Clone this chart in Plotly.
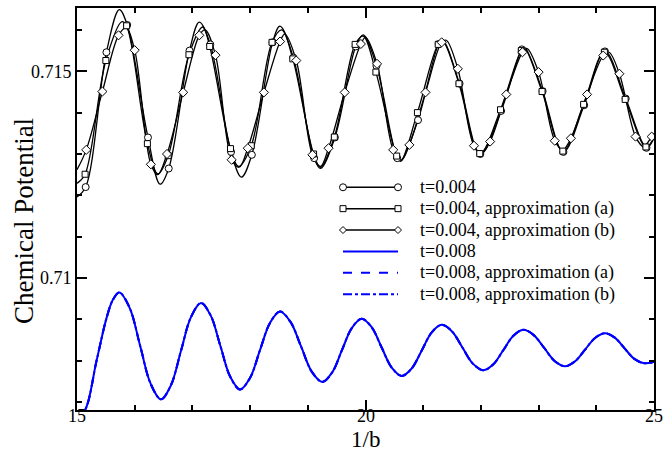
import plotly.graph_objects as go

# ---------------- data ----------------
# t = 0.004 : turning points of the curve and marker (circle) points
t004_turn_x = [15.00, 15.733, 16.44, 17.12, 17.85, 18.518, 19.22, 19.96, 20.61, 21.34, 22.00, 22.76, 23.42, 24.17, 24.83, 25.00]
t004_turn_y = [0.71196, 0.71649, 0.71227, 0.71619, 0.71244, 0.71609, 0.71265, 0.71588, 0.71283, 0.71574, 0.71299, 0.71557, 0.71305, 0.71549, 0.71314, 0.71338]
t004_mark_x = [15.15, 15.51, 15.87, 16.23, 16.59, 16.95, 17.31, 17.67, 18.03, 18.39, 18.75, 19.11, 19.47, 19.83,
               20.19, 20.55, 20.91, 21.27, 21.63, 21.99, 22.35, 22.71, 23.07, 23.43, 23.79, 24.15, 24.51, 24.87]
t004_mark_y = [0.71220, 0.71546, 0.71612, 0.71340, 0.71265, 0.71550, 0.71565, 0.71305, 0.71298, 0.71570, 0.71533, 0.71290, 0.71340, 0.71560,
               0.71513, 0.71290, 0.71382, 0.71566, 0.71470, 0.71300, 0.71404, 0.71553, 0.71452, 0.71305, 0.71418, 0.71548, 0.71434, 0.71315]

# t = 0.004, approximation (a) : squares
t004a_turn_x = [15.00, 15.78, 16.40, 17.18, 17.80, 18.55, 19.22, 19.96, 20.61, 21.34, 22.00, 22.76, 23.42, 24.17, 24.83, 25.00]
t004a_turn_y = [0.71229, 0.71620, 0.71252, 0.71607, 0.71270, 0.71600, 0.71268, 0.71585, 0.71283, 0.71572, 0.71300, 0.71555, 0.71307, 0.71547, 0.71316, 0.71340]
t004a_mark_x = [15.14, 15.50, 15.86, 16.22, 16.58, 16.94, 17.30, 17.66, 18.02, 18.38, 18.74, 19.10, 19.46, 19.82,
                20.18, 20.54, 20.90, 21.26, 21.62, 21.98, 22.34, 22.70, 23.06, 23.42, 23.78, 24.14, 24.50, 24.86]
t004a_mark_y = [0.71251, 0.71526, 0.71610, 0.71325, 0.71296, 0.71540, 0.71560, 0.71313, 0.71320, 0.71570, 0.71530, 0.71300, 0.71341, 0.71565,
                0.71498, 0.71295, 0.71400, 0.71565, 0.71470, 0.71301, 0.71407, 0.71550, 0.71451, 0.71307, 0.71420, 0.71546, 0.71432, 0.71317]

# t = 0.004, approximation (b) : diamonds
t004b_turn_x = [15.00, 15.85, 16.40, 17.22, 17.81, 18.60, 19.22, 20.00, 20.62, 21.40, 22.02, 22.80, 23.42, 24.22, 24.82, 25.00]
t004b_turn_y = [0.71262, 0.71605, 0.71250, 0.71600, 0.71268, 0.71590, 0.71270, 0.71582, 0.71285, 0.71575, 0.71302, 0.71555, 0.71310, 0.71546, 0.71318, 0.71350]
t004b_mark_x = [15.16, 15.44, 15.72, 16.00, 16.28, 16.56, 16.84, 17.12, 17.40, 17.68, 17.96, 18.24, 18.52, 18.80, 19.08, 19.36, 19.64, 19.92,
                20.20, 20.48, 20.76, 21.04, 21.32, 21.60, 21.88, 22.16, 22.44, 22.72, 23.00, 23.28, 23.56, 23.84, 24.12, 24.40, 24.68, 24.96]
t004b_mark_y = [0.71310, 0.71451, 0.71587, 0.71551, 0.71275, 0.71300, 0.71449, 0.71587, 0.71539, 0.71286, 0.71314, 0.71449, 0.71572, 0.71526,
                0.71298, 0.71314, 0.71449, 0.71566, 0.71518, 0.71310, 0.71322, 0.71449, 0.71570, 0.71506, 0.71320, 0.71330, 0.71444, 0.71546,
                0.71498, 0.71332, 0.71338, 0.71444, 0.71538, 0.71494, 0.71342, 0.71342]

# t = 0.008 (exact, approximation (a) and (b) coincide at this scale)
t008_x = [15.00, 15.14, 15.34, 15.515, 15.624, 15.733, 15.914, 16.095, 16.276, 16.456, 16.628, 16.80, 16.975, 17.149,
          17.318, 17.487, 17.656, 17.825, 17.998, 18.17, 18.344, 18.518, 18.70, 18.885, 19.068, 19.251, 19.42, 19.59,
          19.762, 19.934, 20.107, 20.28, 20.454, 20.627, 20.80, 20.975, 21.148, 21.321, 21.50, 21.68, 21.861, 22.042,
          22.216, 22.39, 22.5625, 22.735, 22.916, 23.097, 23.277, 23.458, 23.63, 23.805, 23.978, 24.151, 24.32, 24.49,
          24.66, 24.83, 25.00]
t008_y = [0.70662, 0.70681, 0.70801, 0.70905, 0.70948, 0.709654, 0.709275, 0.70836, 0.707446, 0.707067, 0.707408, 0.70823, 0.709056, 0.709399,
          0.709092, 0.70835, 0.707613, 0.707307, 0.707583, 0.70825, 0.708915, 0.70919, 0.708941, 0.70834, 0.707739, 0.70749, 0.707713, 0.70825,
          0.70879, 0.709014, 0.708811, 0.70832, 0.707835, 0.707634, 0.707814, 0.70825, 0.708688, 0.70887, 0.708709, 0.70832, 0.707932, 0.707771,
          0.707914, 0.70826, 0.708606, 0.70875, 0.708621, 0.70831, 0.707997, 0.707867, 0.707985, 0.70827, 0.708551, 0.708668, 0.70856, 0.70830,
          0.708045, 0.70794, 0.70798]
t008a_y = list(t008_y)
t008b_y = list(t008_y)

x_ticks = [15, 20, 25]
y_ticks = [0.71, 0.715]
y_tick_text = ["0.71", "0.715"]
legend_labels = ["t=0.004", "t=0.004, approximation (a)", "t=0.004, approximation (b)",
                 "t=0.008", "t=0.008, approximation (a)", "t=0.008, approximation (b)"]


def merged(turn_x, turn_y, mark_x, mark_y):
    """Line through turning points and marker points (turning points that sit on a marker are dropped)."""
    pts = list(zip(mark_x, mark_y))
    for i, (x, y) in enumerate(zip(turn_x, turn_y)):
        if i in (0, len(turn_x) - 1) or min(abs(x - m) for m in mark_x) > 0.05:
            pts.append((x, y))
    pts.sort()
    return [p[0] for p in pts], [p[1] for p in pts]


FONT = "Liberation Serif"
fig = go.Figure()

black_sets = [
    (t004_turn_x, t004_turn_y, t004_mark_x, t004_mark_y, "circle", 7),
    (t004a_turn_x, t004a_turn_y, t004a_mark_x, t004a_mark_y, "square", 6),
    (t004b_turn_x, t004b_turn_y, t004b_mark_x, t004b_mark_y, "diamond", 7),
]
for tx, ty, mx, my, sym, sz in black_sets:
    lx, ly = merged(tx, ty, mx, my)
    fig.add_trace(go.Scatter(x=lx, y=ly, mode="lines", line=dict(color="black", width=1.3, shape="spline", smoothing=1.0),
                             showlegend=False, hoverinfo="skip"))
for tx, ty, mx, my, sym, sz in black_sets:
    fig.add_trace(go.Scatter(x=mx, y=my, mode="markers",
                             marker=dict(symbol=sym, size=sz, color="white", line=dict(color="black", width=1)),
                             showlegend=False))

for yy, dash in [(t008_y, "solid"), (t008a_y, "dash"), (t008b_y, "dashdot")]:
    fig.add_trace(go.Scatter(x=t008_x, y=yy, mode="lines",
                             line=dict(color="#0000ff", width=2, dash=dash, shape="spline", smoothing=1.0),
                             showlegend=False))

# ---------------- layout ----------------
W, H = 665, 454
L, R, T, B = 77, 654, 5.7, 410


def px(xp):
    return (xp - L) / (R - L)


def py(yp):
    return (B - yp) / (B - T)


shapes = []
annotations = []
rows = [186, 207.5, 229, 250.5, 272, 293.5]
syms = ["circle", "square", "diamond", None, None, None]
dashes = ["solid", "solid", "solid", "solid", "dash", "dashdot"]
colors = ["black", "black", "black", "#0000ff", "#0000ff", "#0000ff"]
x_a, x_b, x_txt = 343, 398, 418
for yr, sym, dash, col, lab in zip(rows, syms, dashes, colors, legend_labels):
    shapes.append(dict(type="line", xref="paper", yref="paper", x0=px(x_a), x1=px(x_b), y0=py(yr), y1=py(yr),
                       line=dict(color=col, width=1.5 if col == "black" else 2, dash=dash)))
    if sym:
        for xe in (x_a, x_b):
            common = dict(xref="paper", yref="paper", xsizemode="pixel", ysizemode="pixel",
                          xanchor=px(xe), yanchor=py(yr), fillcolor="white", line=dict(color="black", width=1))
            if sym == "circle":
                shapes.append(dict(type="circle", x0=-3.5, x1=3.5, y0=-3.5, y1=3.5, **common))
            elif sym == "square":
                shapes.append(dict(type="rect", x0=-3, x1=3, y0=-3, y1=3, **common))
            else:
                shapes.append(dict(type="path", path="M -3.5 0 L 0 3.5 L 3.5 0 L 0 -3.5 Z", **common))
    annotations.append(dict(x=px(x_txt), y=py(yr), xref="paper", yref="paper", text=lab, showarrow=False,
                            xanchor="left", yanchor="middle", font=dict(family=FONT, size=18, color="black")))

# x tick labels placed just under the axis, as in the reference
for v in x_ticks:
    annotations.append(dict(x=v, y=py(416.5), xref="x", yref="paper", text=str(v), showarrow=False,
                            xanchor="center", yanchor="middle", font=dict(family=FONT, size=18, color="black")))

annotations.append(dict(x=px(365.5), y=py(440), xref="paper", yref="paper", text="1/b", showarrow=False,
                        xanchor="center", yanchor="middle", font=dict(family=FONT, size=23, color="black")))
annotations.append(dict(x=px(24), y=py(220), xref="paper", yref="paper", text="Chemical Potential", showarrow=False,
                        textangle=-90, xanchor="center", yanchor="middle", font=dict(family=FONT, size=27, color="black")))

axis_common = dict(showline=True, linecolor="black", linewidth=2, mirror="allticks", ticks="inside",
                   ticklen=10, tickwidth=1.5, tickcolor="black", showgrid=False, zeroline=False,
                   tickfont=dict(family=FONT, size=18, color="black"))
fig.update_layout(
    width=W, height=H,
    margin=dict(l=L, r=W - R, t=T, b=H - B, pad=0),
    paper_bgcolor="white", plot_bgcolor="white",
    showlegend=False,
    shapes=shapes, annotations=annotations,
    xaxis=dict(range=[15, 25], tickvals=x_ticks, showticklabels=False,
               minor=dict(dtick=1, tick0=15, ticks="inside", ticklen=5, tickwidth=1.5, tickcolor="black"),
               **axis_common),
    yaxis=dict(range=[0.70681, 0.71653], tickvals=y_ticks, ticktext=y_tick_text,
               minor=dict(dtick=0.001, tick0=0.70, ticks="inside", ticklen=5, tickwidth=1.5, tickcolor="black"),
               **axis_common),
)

fig.write_html("out.html")
